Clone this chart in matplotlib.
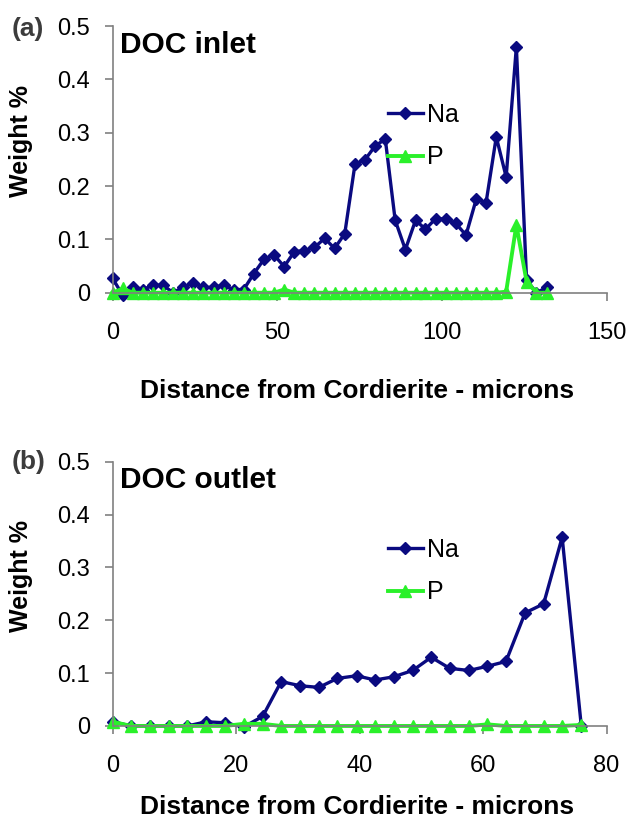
import matplotlib
matplotlib.use('Agg')
import matplotlib.pyplot as plt

plt.rcParams['font.family'] = ['Liberation Sans', 'DejaVu Sans']

# Panel (a) - DOC inlet
inlet_x = [0, 3.1, 6.1, 9.2, 12.3, 15.3, 18.4, 21.5, 24.5, 27.6, 30.7, 33.7, 36.8, 39.8,
           42.9, 46.0, 49.0, 52.1, 55.2, 58.2, 61.3, 64.4, 67.4, 70.5, 73.6, 76.6, 79.7,
           82.8, 85.8, 88.9, 92.0, 95.0, 98.1, 101.2, 104.2, 107.3, 110.4, 113.4, 116.5,
           119.5, 122.6, 125.7, 128.7, 131.8]
inlet_na = [0.027, -0.005, 0.011, 0.006, 0.014, 0.014, 0.0, 0.011, 0.018, 0.010, 0.010,
            0.014, 0.006, 0.006, 0.036, 0.063, 0.071, 0.049, 0.077, 0.079, 0.085, 0.102,
            0.083, 0.111, 0.241, 0.249, 0.275, 0.288, 0.136, 0.081, 0.136, 0.119, 0.139,
            0.138, 0.130, 0.108, 0.175, 0.169, 0.292, 0.217, 0.461, 0.024, 0.0, 0.010]
inlet_p = [0.0, 0.008, 0.0, 0.0, 0.0, 0.0, 0.0, 0.0, 0.0, 0.0, 0.0, 0.0, 0.0, 0.0,
           0.0, 0.0, 0.0, 0.006, 0.0, 0.0, 0.0, 0.0, 0.0, 0.0, 0.0, 0.0, 0.0, 0.0,
           0.0, 0.0, 0.0, 0.0, 0.0, 0.0, 0.0, 0.0, 0.0, 0.0, 0.0, 0.002, 0.127, 0.021,
           0.0, 0.0]

# Panel (b) - DOC outlet
outlet_x = [0, 3.0, 6.1, 9.1, 12.1, 15.2, 18.2, 21.2, 24.3, 27.3, 30.4, 33.4, 36.4,
            39.5, 42.5, 45.5, 48.6, 51.6, 54.6, 57.7, 60.7, 63.7, 66.8, 69.8, 72.8, 75.9]
outlet_na = [0.008, 0.0, 0.0, 0.0, 0.0, 0.008, 0.006, -0.002, 0.018, 0.084, 0.076,
             0.073, 0.090, 0.095, 0.087, 0.093, 0.105, 0.130, 0.109, 0.105, 0.113,
             0.122, 0.214, 0.231, 0.357, 0.0]
outlet_p = [0.008, 0.0, 0.0, 0.0, 0.0, 0.0, 0.0, 0.004, 0.004, 0.0, 0.0, 0.0, 0.0,
            0.0, 0.0, 0.0, 0.0, 0.0, 0.0, 0.0, 0.003, 0.0, 0.0, 0.0, 0.0, 0.002]

y_ticks = [0, 0.1, 0.2, 0.3, 0.4, 0.5]
y_labels = ['0', '0.1', '0.2', '0.3', '0.4', '0.5']

na_color = '#0a0a80'
p_color = '#2af02a'

fig = plt.figure(figsize=(6.29, 8.23), dpi=100)
ax1 = fig.add_axes([0.179, 0.6443, 0.7854, 0.3241])
ax2 = fig.add_axes([0.179, 0.1179, 0.7854, 0.3211])


def style_panel(ax, x, na, p, xmax, xticks, title):
    ax.plot(x, na, color=na_color, lw=2.4, marker='D', markersize=6.5, label='Na')
    ax.plot(x, p, color=p_color, lw=2.8, marker='^', markersize=8, label='P')
    ax.set_xlim(0, xmax)
    ax.set_ylim(0, 0.5)
    ax.set_xticks(xticks)
    ax.set_xticklabels([str(t) for t in xticks])
    ax.set_yticks(y_ticks)
    ax.set_yticklabels(y_labels)
    for s in ['top', 'right']:
        ax.spines[s].set_visible(False)
    for s in ['left', 'bottom']:
        ax.spines[s].set_color('#808080')
        ax.spines[s].set_linewidth(1.2)
    ax.tick_params(axis='both', direction='out', length=6, width=1.2,
                   color='#808080', labelsize=17)
    ax.tick_params(axis='y', pad=10)
    ax.tick_params(axis='x', pad=15)
    for c in ax.get_children():
        c.set_clip_on(False)
    ax.set_ylabel('Weight %', fontsize=18, fontweight='bold')
    ax.yaxis.set_label_coords(-0.161, 0.569)
    ax.set_xlabel('Distance from Cordierite - microns', fontsize=19, fontweight='bold')
    ax.text(0.015, 0.93, title, transform=ax.transAxes, fontsize=21.5,
            fontweight='bold', va='center', ha='left')
    ax.legend(loc='upper left', bbox_to_anchor=(0.557, 0.713), frameon=False,
              fontsize=18, handlelength=1.4, handletextpad=0.15,
              labelspacing=0.75, borderpad=0, borderaxespad=0)


style_panel(ax1, inlet_x, inlet_na, inlet_p, 150, [0, 50, 100, 150], 'DOC inlet')
style_panel(ax2, outlet_x, outlet_na, outlet_p, 80, [0, 20, 40, 60, 80], 'DOC outlet')
ax1.xaxis.set_label_coords(0.495, -0.322)
ax2.xaxis.set_label_coords(0.495, -0.262)

fig.text(12 / 629, 1 - 29 / 823, '(a)', fontsize=19, fontweight='bold',
         color='#3c3c3c', va='center', ha='left')
fig.text(12 / 629, 1 - 462 / 823, '(b)', fontsize=19, fontweight='bold',
         color='#3c3c3c', va='center', ha='left')

fig.savefig('out.png', dpi=100)
